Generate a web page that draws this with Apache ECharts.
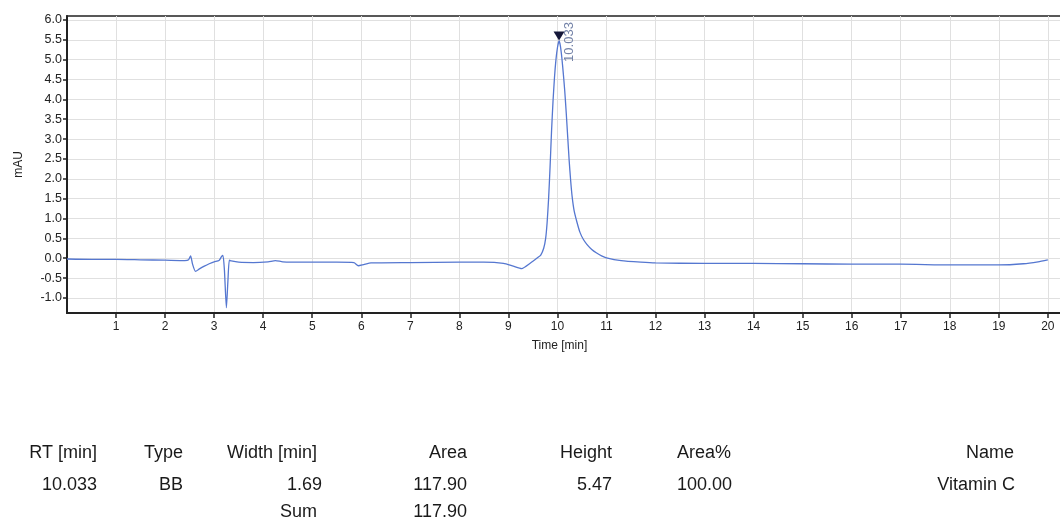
<!DOCTYPE html>
<html>
<head>
<meta charset="utf-8">
<script src="https://cdn.jsdelivr.net/npm/echarts@6/dist/echarts.min.js"></script>
<style>
html,body{margin:0;padding:0;background:#fff;}
#chart{width:1060px;height:521px;}
</style>
</head>
<body>
<div id="chart"></div>
<script>
// ---- data ----
const times = [0.0,0.5,1.0,1.5,2.0,2.4,2.48,2.52,2.56,2.62,2.7,2.8,2.9,3.0,3.1,3.15,3.18,3.21,3.25,3.28,3.31,3.35,3.5,3.8,4.1,4.25,4.4,4.8,5.5,5.85,5.94,6.05,6.2,7.0,8.0,8.5,8.9,9.1,9.27,9.45,9.6,9.66,9.72,9.76,9.79,9.82,9.85,9.88,9.91,9.94,9.97,10.0,10.033,10.06,10.09,10.12,10.15,10.18,10.21,10.24,10.27,10.3,10.34,10.4,10.46,10.53,10.6,10.7,10.8,10.9,11.0,11.3,11.7,12.0,13.0,14.0,15.0,16.0,17.0,18.0,18.5,19.0,19.5,19.8,20.0];
const signal = [-0.02,-0.03,-0.03,-0.04,-0.05,-0.06,-0.04,0.06,-0.15,-0.33,-0.27,-0.2,-0.14,-0.09,-0.06,0.04,0.07,-0.3,-1.25,-0.6,-0.05,-0.07,-0.1,-0.11,-0.09,-0.06,-0.09,-0.1,-0.1,-0.11,-0.19,-0.16,-0.12,-0.11,-0.1,-0.1,-0.13,-0.2,-0.26,-0.12,0.02,0.08,0.25,0.5,0.9,1.5,2.3,3.2,3.95,4.55,5.0,5.3,5.47,5.35,5.05,4.65,4.2,3.65,3.05,2.45,1.95,1.55,1.2,0.9,0.65,0.47,0.35,0.22,0.13,0.06,0.01,-0.06,-0.1,-0.12,-0.13,-0.13,-0.14,-0.15,-0.15,-0.17,-0.17,-0.17,-0.14,-0.09,-0.04];
const yTicks = [-1.0,-0.5,0.0,0.5,1.0,1.5,2.0,2.5,3.0,3.5,4.0,4.5,5.0,5.5,6.0];
const xTicks = [1,2,3,4,5,6,7,8,9,10,11,12,13,14,15,16,17,18,19,20];
const peakRT = 10.033;
const peakHeight = 5.47;
const peakLabel = '10.033';
const tableHeader = ['RT [min]','Type','Width [min]','Area','Height','Area%','Name'];
const tableRow = ['10.033','BB','1.69','117.90','5.47','100.00','Vitamin C'];
const sumRow = ['Sum','117.90'];

const FONT = '"Liberation Sans", Arial, sans-serif';
const chart = echarts.init(document.getElementById('chart'), null, {renderer:'canvas'});

const pts = times.map((t,i)=>[t, signal[i]]);

// table graphics
const headerX = [97,183,317,467,612,731,1014];
const rowX = [97,183,322,467,612,732,1015];
const graphics = [];
tableHeader.forEach((s,i)=>graphics.push({type:'text', right: 1060-headerX[i], top: 444,
  style:{text:s, font:'18px '+FONT, fill:'#1a1a1a'}}));
tableRow.forEach((s,i)=>graphics.push({type:'text', right: 1060-rowX[i], top: 476,
  style:{text:s, font:'18px '+FONT, fill:'#1a1a1a'}}));
graphics.push({type:'text', right:1060-317, top:503, style:{text:sumRow[0], font:'18px '+FONT, fill:'#1a1a1a'}});
graphics.push({type:'text', right:1060-467, top:503, style:{text:sumRow[1], font:'18px '+FONT, fill:'#1a1a1a'}});

chart.setOption({
  animation:false,
  backgroundColor:'#fff',
  grid:{left:67, right:-6, top:16, bottom:208, show:true, borderColor:'#222', borderWidth:1.5,
    containLabel:false, outerBoundsMode:'none'},
  xAxis:{
    type:'value', min:0, max:20.37,
    name:'Time [min]', nameLocation:'middle', nameGap:27,
    nameTextStyle:{fontFamily:FONT, fontSize:12, color:'#222', padding:[0,14,0,0]},
    axisLine:{show:true, onZero:false, lineStyle:{color:'#222', width:2}},
    axisTick:{show:true, length:5, customValues:xTicks, lineStyle:{color:'#222', width:1.5}},
    axisLabel:{customValues:xTicks, fontFamily:FONT, fontSize:12, color:'#222', margin:8},
    splitLine:{show:true, lineStyle:{color:'#e0e0e0', width:1}}
  },
  yAxis:{
    type:'value', min:-1.38, max:6.1,
    name:'mAU', nameLocation:'middle', nameGap:42, nameRotate:90,
    nameTextStyle:{fontFamily:FONT, fontSize:12, color:'#222'},
    axisLine:{show:true, lineStyle:{color:'#222', width:2}},
    axisTick:{show:true, length:4, customValues:yTicks, lineStyle:{color:'#222', width:1.5}},
    axisLabel:{customValues:yTicks, fontFamily:FONT, fontSize:12.5, color:'#222', margin:5,
      formatter:v=>Number(v).toFixed(1)},
    splitLine:{show:true, lineStyle:{color:'#e0e0e0', width:1}}
  },
  series:[{
    type:'line', data:pts, showSymbol:false, smooth:0.2,
    lineStyle:{color:'#5577d0', width:1.3},
    markPoint:{
      silent:true,
      data:[{coord:[peakRT, peakHeight], symbol:'triangle', symbolRotate:180, symbolSize:[11,9], symbolOffset:[0,-5],
        itemStyle:{color:'#15183a'},
        label:{show:true, formatter:peakLabel, rotate:90, position:'inside', offset:[-6,10],
          fontFamily:FONT, fontSize:13, color:'#7483a8'}}]
    }
  }],
  graphic:graphics
});
</script>
</body>
</html>
